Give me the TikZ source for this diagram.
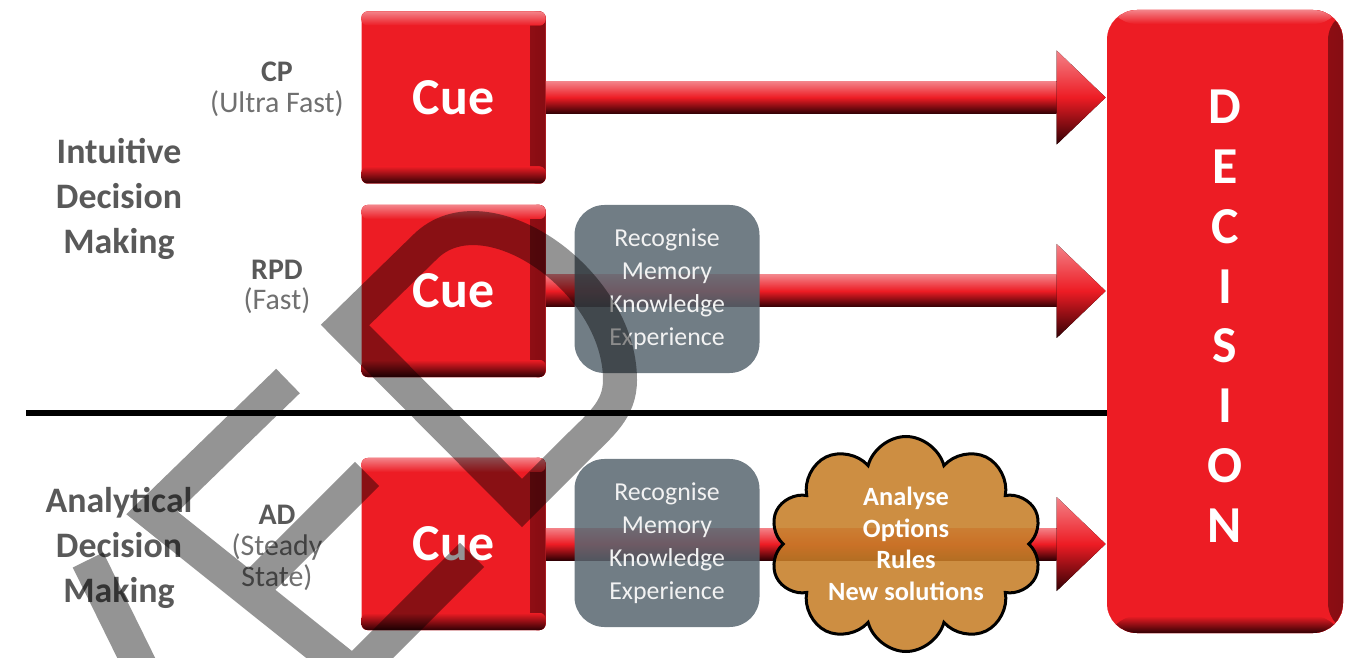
\documentclass[tikz,border=0pt]{standalone}
\usepackage{fontspec}
\setmainfont{Carlito}
\usetikzlibrary{calc,shapes.symbols}

\definecolor{cuered}{RGB}{237,28,36}
\definecolor{cuelight}{RGB}{243,130,136}
\definecolor{cuedark}{RGB}{50,0,4}
\definecolor{memgray}{RGB}{88,102,112}
\definecolor{cloudbrown}{RGB}{198,126,40}
\definecolor{labgray}{RGB}{89,89,89}
\definecolor{subgray}{RGB}{112,112,112}

\tikzset{
  gloss/.style={path picture={
      \fill[left color=cuered, right color=cuedark!55!cuered] ([xshift=-3mm]path picture bounding box.north east) rectangle (path picture bounding box.south east);
      \fill[top color=cuered, bottom color=cuedark] ([yshift=3.4mm]path picture bounding box.south west) rectangle (path picture bounding box.south east);
      \fill[top color=cuelight, bottom color=cuered] (path picture bounding box.north west) rectangle ([yshift=-2.8mm]path picture bounding box.north east);
  }},
  cuebox/.style={fill=cuered, rounded corners=1.2mm, minimum width=36.8mm, minimum height=34.4mm, gloss, text=white, font=\bfseries\fontsize{29.5}{32}\selectfont},
  decbox/.style={fill=cuered, rounded corners=6mm, minimum width=47.2mm, minimum height=124.6mm, gloss, text=white, align=center, font=\bfseries\fontsize{29.5}{34}\selectfont},
  membox/.style={fill=memgray, fill opacity=0.85, text opacity=1, rounded corners=6mm, minimum width=37mm, minimum height=33.6mm, text=white!95!black, align=center, inner sep=0pt, font=\fontsize{14.7}{18.7}\selectfont},
  cloudnode/.style={cloud, cloud puffs=10, aspect=1.3, draw=black, line width=0.6mm, fill=cloudbrown, fill opacity=0.88, text opacity=1, text=white, align=center, inner sep=0pt, minimum width=54.5mm, minimum height=43mm, font=\bfseries\fontsize{15}{17.9}\selectfont},
  grouplab/.style={text=labgray, align=center, inner sep=0pt, font=\bfseries\fontsize{20.4}{25.5}\selectfont},
  speedlab/.style={text=subgray, align=center, inner sep=0pt, font=\fontsize{17}{17.5}\selectfont},
  fatshade/.style={top color=cuelight, bottom color=cuedark, middle color=cuered},
  wmark/.style={draw=black, draw opacity=0.42, line width=6.8mm, line join=miter},
}

\begin{document}
\begin{tikzpicture}[x=0.2mm, y=-0.2mm]
  \useasboundingbox (0,0) rectangle (1357,658);

  % labels on the left
  \node[grouplab] (intuit) at (119,199) {Intuitive\\Decision\\Making};
  \node[grouplab] (analyt) at (119,548) {Analytical\\Decision\\Making};
  \node[speedlab] (cp) at (277,89) {\textcolor{labgray}{\textbf{CP}}\\(Ultra Fast)};
  \node[speedlab] (rpd) at (277,287) {\textcolor{labgray}{\textbf{RPD}}\\(Fast)};
  \node[speedlab] (ad) at (277,548) {\textcolor{labgray}{\textbf{AD}}\\(Steady\\State)};

  % cues and decision
  \node[cuebox] (cueA) at (453.5,97.5) {Cue};
  \node[cuebox] (cueB) at (453.5,291) {Cue};
  \node[cuebox] (cueC) at (453.5,544) {Cue};
  \node[decbox] (dec) at (1225,321.5) {D\\E\\C\\I\\S\\I\\O\\N\\[-28pt]};

  % dividing line
  \coordinate (lineL) at (26,413);
  \draw[line width=1.35mm] (lineL) -- (lineL -| dec.west);

  % fat arrows
  \fill[fatshade] ($(cueA.east)+(0,-16)$) rectangle ($(cueA.east -| dec.west)+(-50,16)$);
  \fill[fatshade] ($(cueA.east -| dec.west)+(-50,-47)$) -- ($(cueA.east -| dec.west)+(-1,0)$) -- ($(cueA.east -| dec.west)+(-50,47)$) -- cycle;
  \fill[fatshade] ($(cueB.east)+(0,-16)$) rectangle ($(cueB.east -| dec.west)+(-50,16)$);
  \fill[fatshade] ($(cueB.east -| dec.west)+(-50,-47)$) -- ($(cueB.east -| dec.west)+(-1,0)$) -- ($(cueB.east -| dec.west)+(-50,47)$) -- cycle;
  \fill[fatshade] ($(cueC.east)+(0,-16)$) rectangle ($(cueC.east -| dec.west)+(-50,16)$);
  \fill[fatshade] ($(cueC.east -| dec.west)+(-50,-47)$) -- ($(cueC.east -| dec.west)+(-1,0)$) -- ($(cueC.east -| dec.west)+(-50,47)$) -- cycle;

  % what happens between cue and decision
  \node[membox] (memB) at (667,289) {Recognise\\Memory\\Knowledge\\Experience};
  \node[membox] (memC) at (667,543) {Recognise\\Memory\\Knowledge\\Experience};
  \node[cloudnode] (think) at (906,544) {Analyse\\Options\\Rules\\New solutions};

  % watermark
  \begin{scope}
    \clip (0,0) rectangle (1357,658);
    \draw[wmark] (522,503) -- (345,325) -- (425,247) .. controls (485,187) and (620,280) .. (620,380)
        .. controls (620,410) and (600,425) .. (578,447) -- cycle
      (288,381) -- (152,513) -- (351,672)
      (367,474) -- (250,591)
      (472,555) -- (355,672)
      (88,560) -- (152,690);
  \end{scope}
\end{tikzpicture}
\end{document}
